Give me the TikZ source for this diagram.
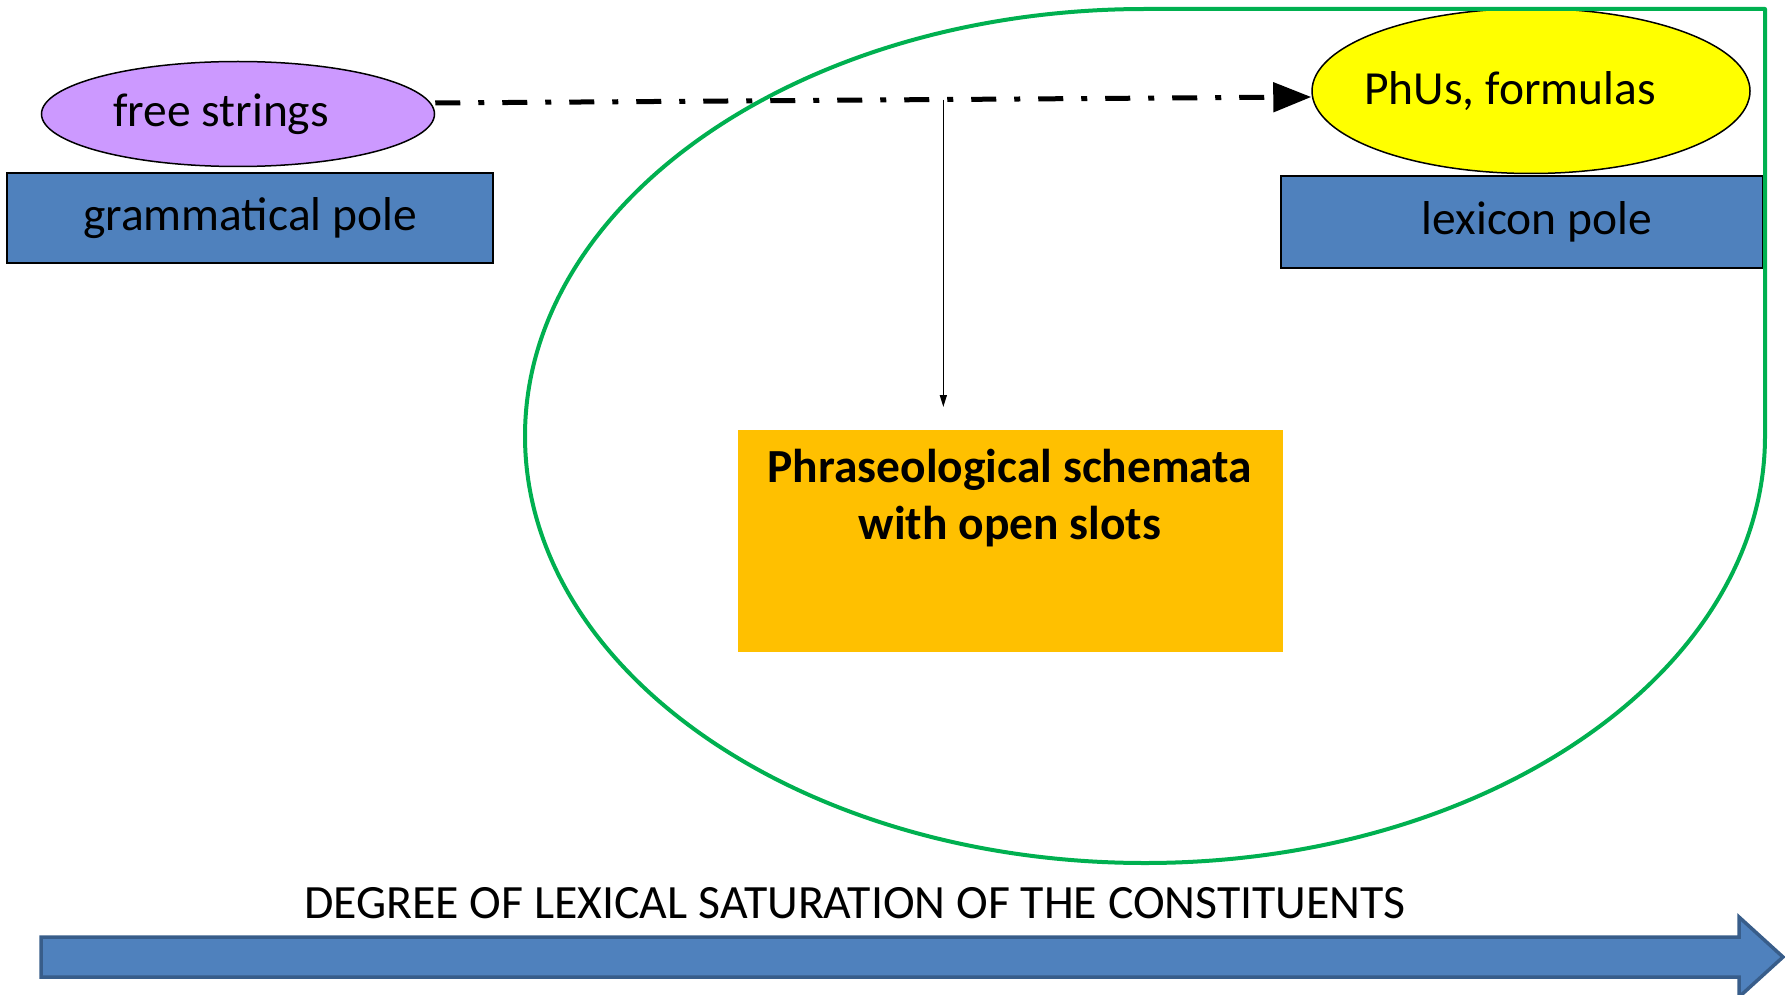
\documentclass[tikz,border=0pt]{standalone}
\usepackage{fontspec}
\setmainfont{Carlito}
\usetikzlibrary{shapes.geometric,arrows.meta}
\definecolor{polblue}{HTML}{4F81BD}
\definecolor{arrowedge}{HTML}{385D8A}
\definecolor{lilac}{HTML}{CC99FF}
\definecolor{phuyellow}{HTML}{FFFF00}
\definecolor{schemaorange}{HTML}{FFC000}
\definecolor{ringgreen}{HTML}{00B050}
\begin{document}
\begin{tikzpicture}[x=1pt,y=1pt,
  txt/.style={font=\fontsize{47.5}{57}\selectfont, text=black, inner sep=0pt},
  boldtxt/.style={font=\fontsize{47.5}{57}\selectfont\bfseries, text=black, inner sep=0pt, align=center},
  poleblock/.style={txt, draw=black, line width=1.5pt, fill=polblue, inner sep=0pt},
  oval/.style={txt, ellipse, draw=black, line width=1.5pt, inner sep=0pt},
  schemabox/.style={fill=schemaorange, inner sep=0pt},
  ring/.style={draw=ringgreen, line width=4pt, line join=round},
  bigarrow/.style={fill=polblue, draw=arrowedge, line width=3.5pt, line join=miter},
  dashlink/.style={line width=5pt, dash pattern=on 25pt off 18pt on 6pt off 18pt, -{Triangle[length=38pt,width=29pt]}},
  droplink/.style={line width=1.5pt, -{Triangle[length=12pt,width=7pt]}}
]
\useasboundingbox (0,0) rectangle (1785,-995);

% nodes
\node[oval, fill=lilac, minimum width=393pt, minimum height=105pt] (free) at (238,-114) {\makebox[0pt]{\hspace*{-34pt}free strings}};
\node[oval, fill=phuyellow, minimum width=438pt, minimum height=165pt] (phus) at (1531,-91) {\makebox[0pt]{\hspace*{-42pt}PhUs, formulas}};
\node[poleblock, minimum width=486pt, minimum height=90pt] (gram) at (250,-218) {grammatical pole};
\node[poleblock, minimum width=482pt, minimum height=92pt] (lex) at (1522,-222) {\hspace*{30pt}lexicon pole};
\node[schemabox, minimum width=545pt, minimum height=222pt] (schema) at (1010.5,-541) {};
\node[boldtxt] (schemalbl) at (1010,-498) {Phraseological schemata\\with open slots};
\node[txt, font=\fontsize{47.8}{57}\selectfont] (degree) at (855,-903) {DEGREE OF LEXICAL SATURATION OF THE CONSTITUENTS};

% green boundary
\draw[ring] (1145,-9) -- (1765,-9) -- (1765,-436)
  arc[start angle=0, end angle=-180, x radius=620pt, y radius=427pt]
  arc[start angle=180, end angle=90, x radius=620pt, y radius=427pt] -- cycle;

% block arrow
\draw[bigarrow] (41,-937) -- (1739,-937) -- (1739,-917) -- (1783,-957) -- (1739,-997) -- (1739,-977) -- (41,-977) -- cycle;

% connectors
\coordinate (droptip) at (943,-407);
\draw[dashlink] ([yshift=11pt]free.east) -- coordinate[pos=0.58] (drop) ([yshift=-6pt]phus.west);
\draw[droplink] (drop) -- (drop |- droptip);
\end{tikzpicture}
\end{document}
